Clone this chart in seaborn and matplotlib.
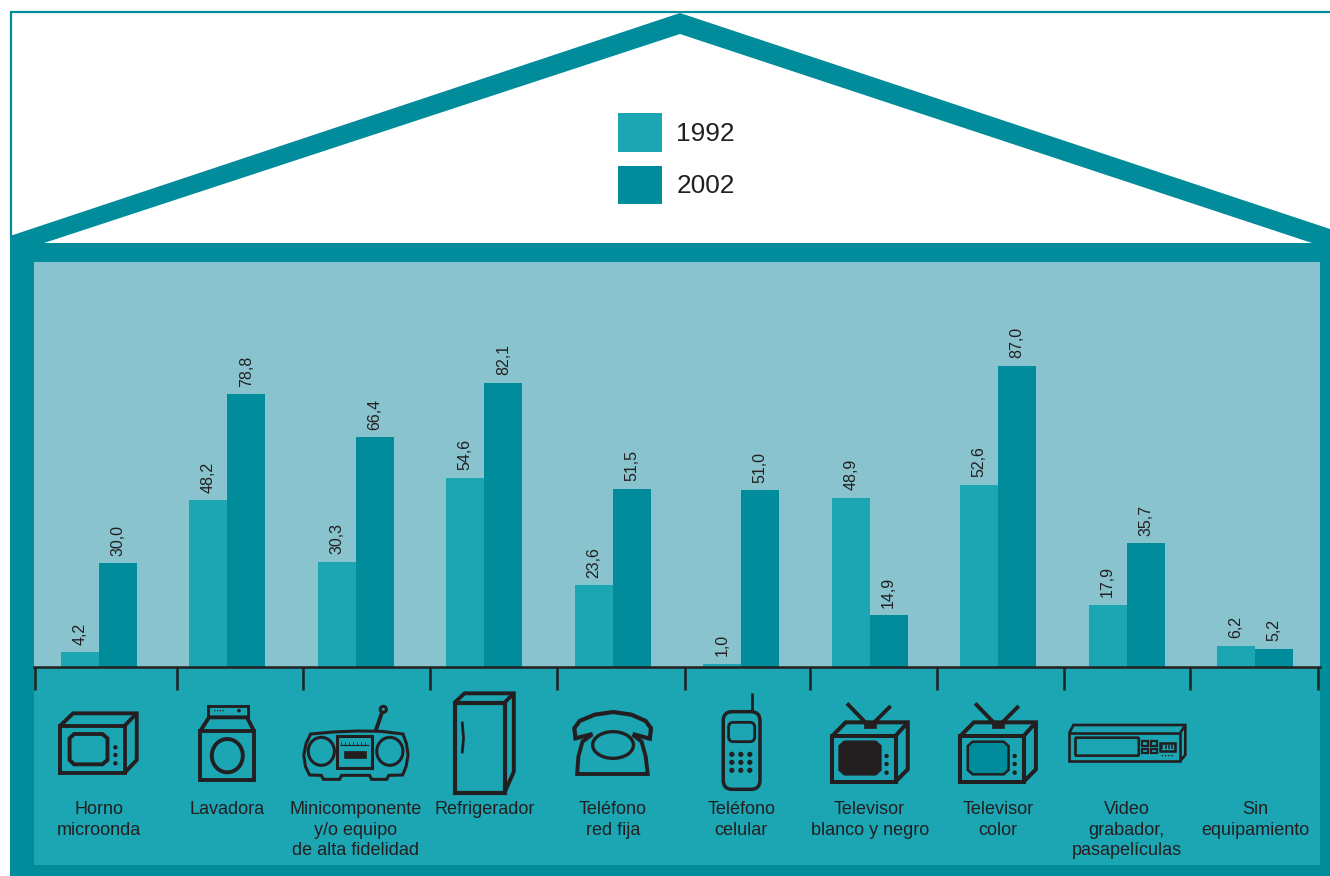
import numpy as np
import pandas as pd
import seaborn as sns
import matplotlib.pyplot as plt
from matplotlib.patches import Polygon, Rectangle, Ellipse, FancyBboxPatch

# datos
categorias = ["Horno\nmicroonda", "Lavadora", "Minicomponente\ny/o equipo\nde alta fidelidad",
              "Refrigerador", "Teléfono\nred fija", "Teléfono\ncelular",
              "Televisor\nblanco y negro", "Televisor\ncolor",
              "Video\ngrabador,\npasapelículas", "Sin\nequipamiento"]
valores_1992 = [4.2, 48.2, 30.3, 54.6, 23.6, 1.0, 48.9, 52.6, 17.9, 6.2]
valores_2002 = [30.0, 78.8, 66.4, 82.1, 51.5, 51.0, 14.9, 87.0, 35.7, 5.2]
anios = ["1992", "2002"]

CLARO = "#1CA5B3"
OSCURO = "#008C9A"
FONDO = "#89C4CE"
TINTA = "#231F20"

sns.set_theme(style="white")
plt.rcParams["font.family"] = ["Liberation Sans", "DejaVu Sans"]

W, H = 1330, 876
fig = plt.figure(figsize=(W / 100, H / 100), dpi=100, facecolor="white")

# capa de fondo en pixeles: la casa, los iconos
bg = fig.add_axes([0, 0, 1, 1], zorder=0)
bg.set_xlim(0, W)
bg.set_ylim(H, 0)
bg.axis("off")

bg.add_patch(Polygon([(10, 236), (680, 13), (1330, 229), (1330, 876), (10, 876)], fc=OSCURO, ec="none"))
bg.add_patch(Polygon([(44, 243), (680, 34), (1312, 243)], fc="white", ec="none"))
bg.plot([11, 11, 1330], [236, 12, 12], color=OSCURO, lw=1.6, solid_joinstyle="miter")
bg.add_patch(Rectangle((34, 667), 1286, 198, fc=CLARO, ec="none"))

# marcas bajo el eje
for xt in [35, 177, 303, 430, 557, 685, 810, 937, 1064, 1190, 1318]:
    bg.plot([xt, xt], [667, 690], color=TINTA, lw=1.8, solid_capstyle="butt", zorder=5)


# iconos: coordenadas de las ampliaciones, pasadas a pixeles
def z1(x, y):
    return 30 + x / 2.904, 660 + y / 3


def z2(x, y):
    return 560 + x / 2.45, 660 + y / 3


def linea(z, pts, lw=2.8, cerrar=False, fc="none"):
    p = [z(*q) for q in pts]
    if cerrar or fc != "none":
        bg.add_patch(Polygon(p, closed=True, fc=fc, ec=TINTA, lw=lw, joinstyle="miter", zorder=4))
    else:
        bg.plot([q[0] for q in p], [q[1] for q in p], color=TINTA, lw=lw, zorder=4,
                solid_joinstyle="miter", solid_capstyle="butt")


def rect(z, x0, y0, x1, y1, lw=2.8, fc="none"):
    linea(z, [(x0, y0), (x1, y0), (x1, y1), (x0, y1)], lw=lw, cerrar=True, fc=fc)


def elipse(z, cx, cy, rx, ry, lw=2.8, fc="none", sx=2.904):
    x, y = z(cx, cy)
    bg.add_patch(Ellipse((x, y), 2 * rx / sx, 2 * ry / 3, fc=fc, ec=TINTA, lw=lw, zorder=4))


def redondo(z, x0, y0, x1, y1, r, lw=2.8, fc="none"):
    a, b = z(x0, y0)
    c, d = z(x1, y1)
    bg.add_patch(FancyBboxPatch((a + r, b + r), c - a - 2 * r, d - b - 2 * r,
                                boxstyle=f"round,pad={r},rounding_size={r}",
                                fc=fc, ec=TINTA, lw=lw, zorder=4))


def punto(z, x, y, r=2.2):
    x, y = z(x, y)
    bg.add_patch(Ellipse((x, y), 2 * r, 2 * r, fc=TINTA, ec="none", zorder=4))


# horno
rect(z1, 88, 197, 275, 338)
linea(z1, [(88, 197), (125, 160), (310, 160), (310, 300), (275, 338)])
linea(z1, [(275, 197), (310, 160)])
linea(z1, [(128, 222), (210, 222), (225, 235), (225, 300), (210, 313), (128, 313), (115, 300), (115, 235)], cerrar=True)
for yy in [262, 285, 310]:
    punto(z1, 248, yy)

# lavadora
rect(z1, 495, 212, 650, 360)
linea(z1, [(495, 212), (520, 172), (630, 172), (650, 212)])
rect(z1, 517, 137, 632, 170, lw=2.1)
elipse(z1, 573, 287, 45, 50)
punto(z1, 607, 152, 1.8)
for xx in [537, 545, 553, 561]:
    punto(z1, xx, 152, 0.7)

# minicomponente
linea(z1, [(815, 222), (880, 216), (950, 213), (1020, 214), (1083, 222), (1093, 250), (1098, 285), (1092, 320),
           (1082, 345), (1042, 346), (1036, 358), (992, 358), (986, 346), (905, 346), (899, 358), (852, 358),
           (846, 346), (812, 345), (800, 320), (795, 285), (802, 250)], lw=2.2, cerrar=True)
elipse(z1, 846, 274, 38, 42, lw=2.2)
elipse(z1, 1045, 274, 38, 42, lw=2.2)
rect(z1, 892, 228, 993, 323, lw=2.2)
rect(z1, 912, 273, 975, 293, lw=0.5, fc=TINTA)
linea(z1, [(900, 254), (985, 254)], lw=0.8)
for xx in range(902, 985, 12):
    linea(z1, [(xx, 254), (xx, 247)], lw=0.6)
linea(z1, [(1003, 215), (1024, 152)], lw=2.8)
elipse(z1, 1026, 148, 9, 9, lw=2.2)

# refrigerador
rect(z1, 1233, 128, 1378, 398, lw=3)
linea(z1, [(1233, 128), (1262, 100), (1405, 100), (1405, 335), (1378, 398)])
linea(z1, [(1378, 128), (1405, 100)])
linea(z1, [(1255, 185), (1259, 235), (1255, 280)], lw=2)

# telefono fijo
linea(z2, [(80, 222), (38, 235), (35, 205), (48, 183), (85, 164), (130, 156), (175, 164), (210, 183), (223, 205),
           (220, 236), (178, 222)], lw=3)
linea(z2, [(78, 224), (55, 245), (45, 290), (42, 342), (215, 342), (210, 290), (200, 245), (178, 224)], lw=2.8)
elipse(z2, 130, 255, 50, 40, lw=2.4, sx=2.45)

# telefono celular
linea(z2, [(470, 155), (470, 100)], lw=2)
redondo(z2, 400, 155, 490, 388, 9, lw=2.5)
redondo(z2, 413, 187, 477, 245, 5, lw=2)
for xx in [421, 443, 465]:
    for yy in [283, 307, 331]:
        punto(z2, xx, yy, 2.6)

# televisores
for dx, pantalla in [(0, TINTA), (314, OSCURO)]:
    rect(z2, 667 + dx, 228, 822 + dx, 365, lw=2.9)
    linea(z2, [(667 + dx, 228), (700 + dx, 187), (852 + dx, 187), (852 + dx, 328), (822 + dx, 365)], lw=2.9)
    linea(z2, [(822 + dx, 228), (852 + dx, 187)], lw=2.9)
    linea(z2, [(697 + dx, 245), (773 + dx, 245), (785 + dx, 258), (785 + dx, 330), (773 + dx, 343),
               (697 + dx, 343), (685 + dx, 330), (685 + dx, 258)], lw=1.8, cerrar=True, fc=pantalla)
    for yy in [288, 312, 338]:
        punto(z2, 800 + dx, yy)
    linea(z2, [(703 + dx, 130), (748 + dx, 187)], lw=2.8)
    linea(z2, [(810 + dx, 138), (770 + dx, 187)], lw=2.8)
    rect(z2, 745 + dx, 187, 773 + dx, 205, lw=0.5, fc=TINTA)

# video grabador
rect(z2, 1248, 218, 1520, 302, lw=1.9)
linea(z2, [(1248, 218), (1258, 195), (1532, 195), (1532, 285), (1520, 302)], lw=1.9)
linea(z2, [(1520, 218), (1532, 195)], lw=1.9)
redondo(z2, 1263, 233, 1418, 287, 1, lw=1.9)
for y0 in [243, 266]:
    for x0 in [1425, 1447]:
        rect(z2, x0, y0, x0 + 16, y0 + 14, lw=1.6)
rect(z2, 1470, 250, 1507, 272, lw=1.9)
for xx in [1476, 1484, 1492, 1500]:
    linea(z2, [(xx, 254), (xx, 268)], lw=1.1)
    punto(z2, xx, 287, 0.8)

# grafico de barras
ax = fig.add_axes([34 / W, (H - 667) / H, 1286 / W, 405 / H], zorder=1, facecolor=FONDO)

df = pd.DataFrame({
    "categoria": categorias * 2,
    "anio": [anios[0]] * 10 + [anios[1]] * 10,
    "valor": valores_1992 + valores_2002,
})
sns.barplot(data=df, x="categoria", y="valor", hue="anio", hue_order=anios,
            palette=[CLARO, OSCURO], saturation=1, width=0.592, gap=0,
            linewidth=0, edgecolor="none", legend=False, ax=ax)

ax.set_xlim(-0.506, 9.506)
ax.set_ylim(0, 117)
ax.set_xlabel("")
ax.set_ylabel("")
ax.set_yticks([])
sns.despine(ax=ax, left=True, top=True, right=True)
ax.spines["bottom"].set_color(TINTA)
ax.spines["bottom"].set_linewidth(1.8)
ax.tick_params(axis="x", length=0, pad=96.5, labelsize=13, labelcolor=TINTA)
for t in ax.get_xticklabels():
    t.set_linespacing(1.27)

for cont, vals in zip(ax.containers, [valores_1992, valores_2002]):
    etiquetas = [f"{v:.1f}".replace(".", ",") for v in vals]
    ax.bar_label(cont, labels=etiquetas, rotation=90, padding=5.5, fontsize=11.5, color=TINTA)

# leyenda
handles = [Rectangle((0, 0), 1, 1, fc=c, ec="none") for c in [CLARO, OSCURO]]
ax.legend(handles, anios, loc="upper left", bbox_to_anchor=(618 / W, (H - 113) / H),
          bbox_transform=fig.transFigure, frameon=False, fontsize=18.9, labelcolor=TINTA,
          handlelength=1.675, handleheight=1.885, labelspacing=0.53, handletextpad=0.55,
          borderaxespad=0, borderpad=0)

plt.savefig("out.png", dpi=100)
